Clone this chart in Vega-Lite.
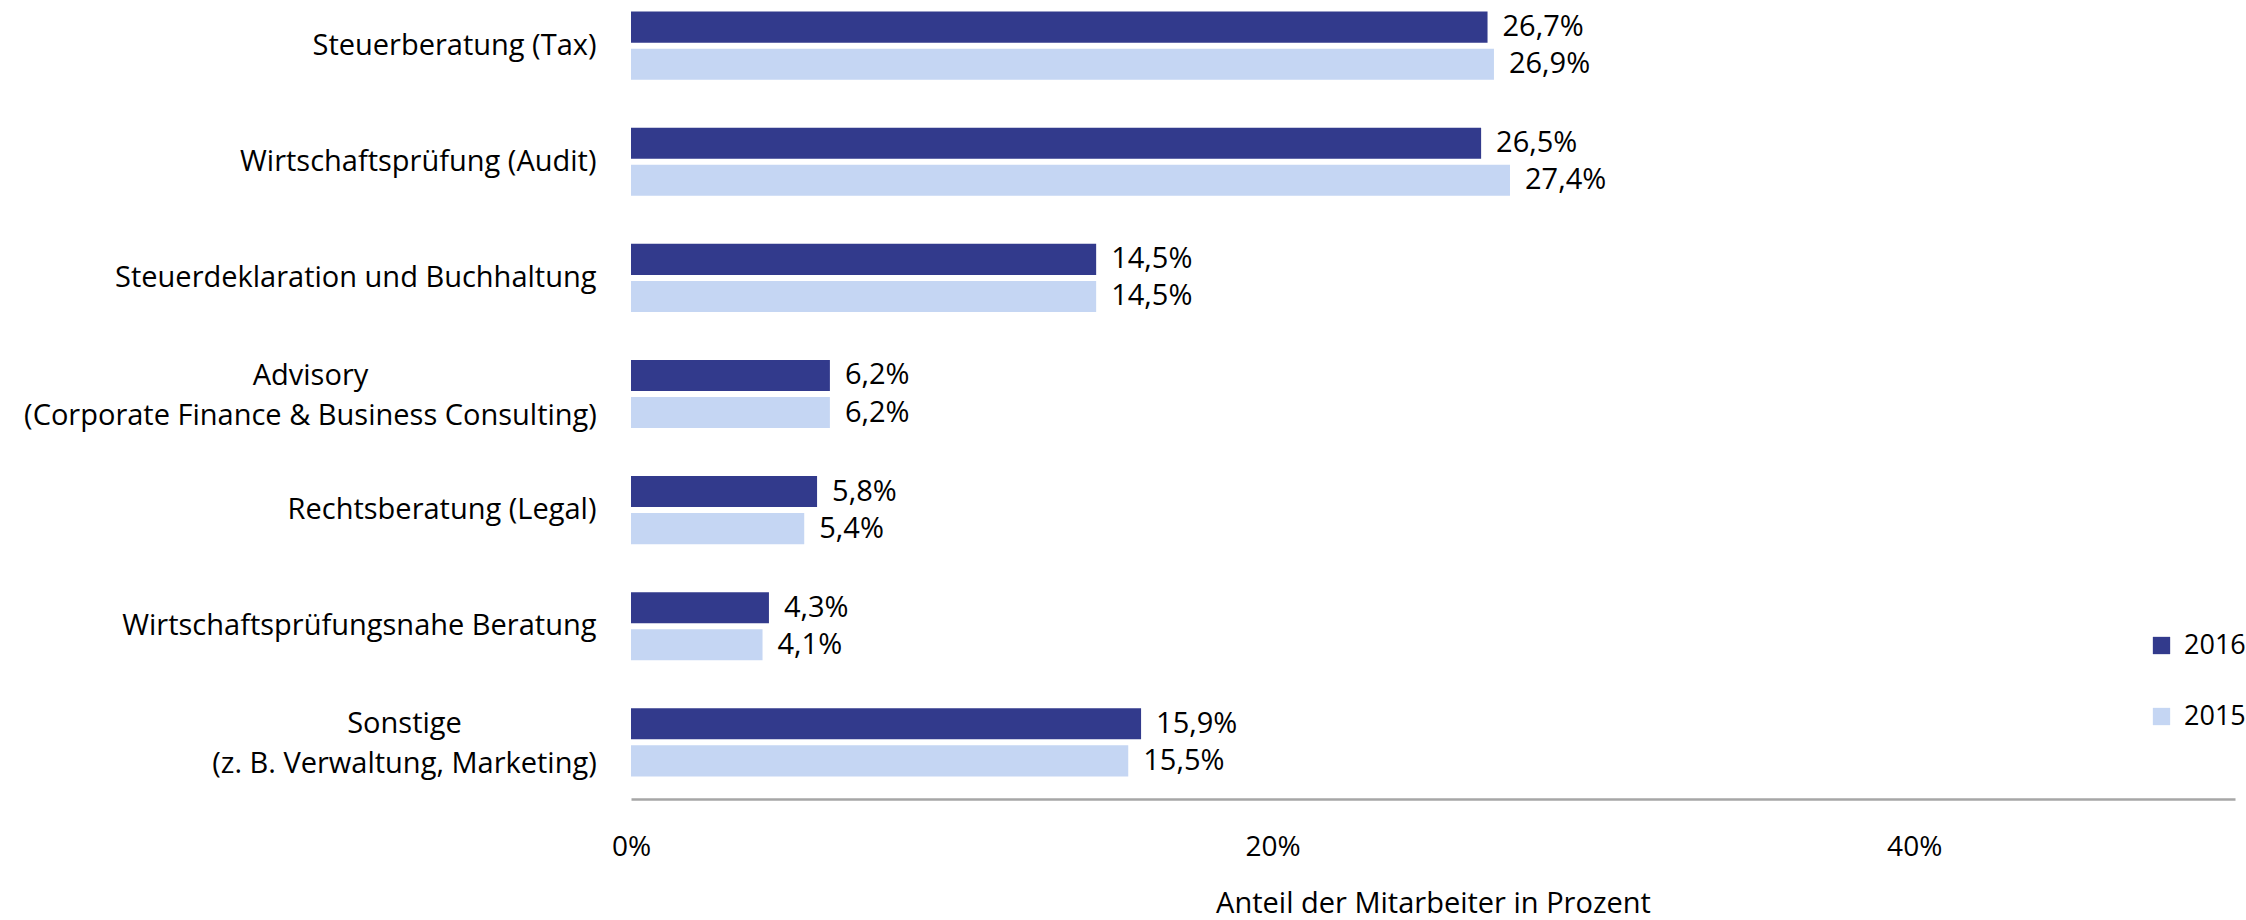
{
  "$schema": "https://vega.github.io/schema/vega-lite/v6.json",
  "autosize": {"type": "none"},
  "padding": {"left": 631, "top": 0, "right": 11, "bottom": 132},
  "width": 1604,
  "height": 788,
  "background": "white",
  "config": {
    "locale": {"number": {"decimal": ",", "thousands": ".", "grouping": [3], "currency": ["", " €"]}},
    "font": "Open Sans",
    "view": {"stroke": null},
    "text": {"font": "Open Sans"}
  },
  "data": {
    "values": [
      {"bereich": "Steuerberatung (Tax)", "jahr": "2016", "anteil": 0.267},
      {"bereich": "Steuerberatung (Tax)", "jahr": "2015", "anteil": 0.269},
      {"bereich": "Wirtschaftsprüfung (Audit)", "jahr": "2016", "anteil": 0.265},
      {"bereich": "Wirtschaftsprüfung (Audit)", "jahr": "2015", "anteil": 0.274},
      {"bereich": "Steuerdeklaration und Buchhaltung", "jahr": "2016", "anteil": 0.145},
      {"bereich": "Steuerdeklaration und Buchhaltung", "jahr": "2015", "anteil": 0.145},
      {"bereich": "Advisory\n(Corporate Finance & Business Consulting)", "jahr": "2016", "anteil": 0.062},
      {"bereich": "Advisory\n(Corporate Finance & Business Consulting)", "jahr": "2015", "anteil": 0.062},
      {"bereich": "Rechtsberatung (Legal)", "jahr": "2016", "anteil": 0.058},
      {"bereich": "Rechtsberatung (Legal)", "jahr": "2015", "anteil": 0.054},
      {"bereich": "Wirtschaftsprüfungsnahe Beratung", "jahr": "2016", "anteil": 0.043},
      {"bereich": "Wirtschaftsprüfungsnahe Beratung", "jahr": "2015", "anteil": 0.041},
      {"bereich": "Sonstige\n(z. B. Verwaltung, Marketing)", "jahr": "2016", "anteil": 0.159},
      {"bereich": "Sonstige\n(z. B. Verwaltung, Marketing)", "jahr": "2015", "anteil": 0.155}
    ]
  },
  "encoding": {
    "y": {
      "field": "bereich",
      "type": "nominal",
      "sort": null,
      "scale": {"paddingInner": 0.414, "paddingOuter": 0.1},
      "axis": {
        "title": null,
        "domain": false,
        "ticks": false,
        "labelFont": "Open Sans",
        "labelFontSize": 29,
        "labelColor": "#000000",
        "labelLimit": 1200,
        "labelLineHeight": 40,
        "labelExpr": "split(datum.label, '\\n')",
        "labelAlign": {"condition": {"test": "indexof(datum.value, '\\n') >= 0", "value": "center"}, "value": "right"},
        "labelPadding": {
          "condition": [
            {"test": "indexof(datum.value, 'Advisory') >= 0", "value": 321},
            {"test": "indexof(datum.value, 'Sonstige') >= 0", "value": 227}
          ],
          "value": 35
        },
        "labelOffset": {"condition": {"test": "indexof(datum.value, '\\n') >= 0", "value": -18}, "value": 0}
      }
    },
    "yOffset": {
      "field": "jahr",
      "type": "nominal",
      "sort": ["2016", "2015"],
      "scale": {"paddingInner": 0.162, "paddingOuter": 0}
    },
    "x": {
      "field": "anteil",
      "type": "quantitative",
      "scale": {"domain": [0, 0.5], "nice": false},
      "axis": {
        "title": "Anteil der Mitarbeiter in Prozent",
        "titleFont": "Open Sans",
        "titleFontSize": 29,
        "titleFontWeight": "normal",
        "titleColor": "#000000",
        "titlePadding": 28,
        "values": [0, 0.2, 0.4],
        "format": ".0%",
        "grid": false,
        "ticks": false,
        "tickSize": 0,
        "offset": 11,
        "domainColor": "#a6a6a6",
        "domainWidth": 2.5,
        "labelFont": "Open Sans",
        "labelFontSize": 28,
        "labelColor": "#000000",
        "labelPadding": 34,
        "labelFlush": false
      }
    },
    "color": {
      "field": "jahr",
      "type": "nominal",
      "scale": {"domain": ["2016", "2015"], "range": ["#323A8C", "#C5D6F3"]},
      "legend": {
        "title": null,
        "orient": "none",
        "legendX": 1517,
        "legendY": 632,
        "symbolType": "square",
        "symbolSize": 300,
        "symbolStrokeWidth": 0,
        "labelFont": "Open Sans",
        "labelFontSize": 27,
        "labelColor": "#000000",
        "labelOffset": 9,
        "rowPadding": 43
      }
    }
  },
  "layer": [
    {"mark": {"type": "bar"}},
    {
      "mark": {"type": "text", "align": "left", "baseline": "middle", "dx": 15, "fontSize": 29, "color": "#000000"},
      "encoding": {
        "text": {"field": "anteil", "type": "quantitative", "format": ".1%"},
        "color": {"value": "#000000"}
      }
    }
  ]
}
